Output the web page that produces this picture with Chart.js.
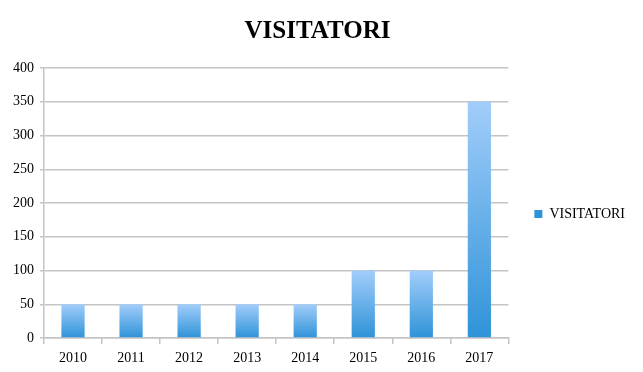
<!DOCTYPE html>
<html>
<head>
<meta charset="utf-8">
<script src="https://cdn.jsdelivr.net/npm/chart.js@4/dist/chart.umd.min.js"></script>
<style>
  html, body { margin: 0; padding: 0; background: #fff; }
  #wrap { width: 643px; height: 372px; position: relative; }
</style>
</head>
<body>
<div id="wrap"><canvas id="c"></canvas></div>
<script>
// Visitatori per anno
const anni = ['2010', '2011', '2012', '2013', '2014', '2015', '2016', '2017'];
const visitatori = [50, 50, 50, 50, 50, 100, 100, 350];
const yTicks = [0, 50, 100, 150, 200, 250, 300, 350, 400];

const GRID = '#c4c4c4';
const SERIF = '"Liberation Serif", "DejaVu Serif", serif';

// gradiente per ogni barra: chiaro in alto, scuro in basso
function barGradient(context) {
  const chart = context.chart;
  const { ctx, chartArea, scales } = chart;
  if (!chartArea || context.parsed == null) return '#6aaee8';
  const top = scales.y.getPixelForValue(context.parsed.y);
  const bottom = scales.y.getPixelForValue(0);
  if (!isFinite(top) || top === bottom) return '#6aaee8';
  const g = ctx.createLinearGradient(0, top, 0, bottom);
  g.addColorStop(0, '#a2cdfa');
  g.addColorStop(1, '#2e93d8');
  return g;
}

// quadratino della legenda, stesso gradiente
function legendGradient(chart) {
  const lg = chart.legend;
  const hb = lg && lg.legendHitBoxes && lg.legendHitBoxes[0];
  const top = hb ? hb.top : 200;
  const h = hb ? hb.height : 16;
  const g = chart.ctx.createLinearGradient(0, top + h / 2 - 4, 0, top + h / 2 + 4);
  g.addColorStop(0, '#a2cdfa');
  g.addColorStop(1, '#2e93d8');
  return g;
}

const chart = new Chart(document.getElementById('c'), {
  type: 'bar',
  data: {
    labels: anni,
    datasets: [{
      label: 'VISITATORI',
      data: visitatori,
      backgroundColor: barGradient,
      borderWidth: 0,
      categoryPercentage: 0.4,
      barPercentage: 1,
    }],
  },
  options: {
    responsive: true,
    maintainAspectRatio: false,
    animation: false,
    layout: { padding: { left: 0, right: 8, top: 0, bottom: 0 } },
    plugins: {
      tooltip: { enabled: false },
      title: {
        display: true,
        text: 'VISITATORI',
        color: '#000',
        font: { family: SERIF, size: 25, weight: 'bold' },
        padding: { top: 17, bottom: 21 },
      },
      legend: {
        position: 'right',
        title: { display: true, text: ' ', font: { size: 14 }, padding: { top: 0, bottom: 39 } },
        labels: {
          color: '#000',
          font: { family: SERIF, size: 14 },
          boxWidth: 8,
          boxHeight: 8,
          padding: 26,
          generateLabels: (c) => [{
            text: 'VISITATORI',
            fillStyle: legendGradient(c),
            strokeStyle: 'rgba(0,0,0,0)',
            fontColor: '#000',
            lineWidth: 0,
            datasetIndex: 0,
          }],
        },
      },
    },
    scales: {
      x: {
        grid: { display: true, drawOnChartArea: false, color: GRID, tickLength: 6, lineWidth: 1.5 },
        border: { color: GRID, width: 1.5 },
        ticks: { color: '#000', font: { family: SERIF, size: 14 }, padding: 6 },
        afterFit: (s) => { s.height = 34; },
      },
      y: {
        min: 0,
        max: 400,
        afterBuildTicks: (s) => { s.ticks = yTicks.map((v) => ({ value: v })); },
        grid: { color: GRID, lineWidth: 1.5, tickLength: 4 },
        border: { color: GRID, width: 1.5 },
        ticks: { color: '#000', font: { family: SERIF, size: 14 }, padding: 6 },
        afterFit: (s) => { s.width = 44; },
      },
    },
  },
});
chart.update();
</script>
</body>
</html>
